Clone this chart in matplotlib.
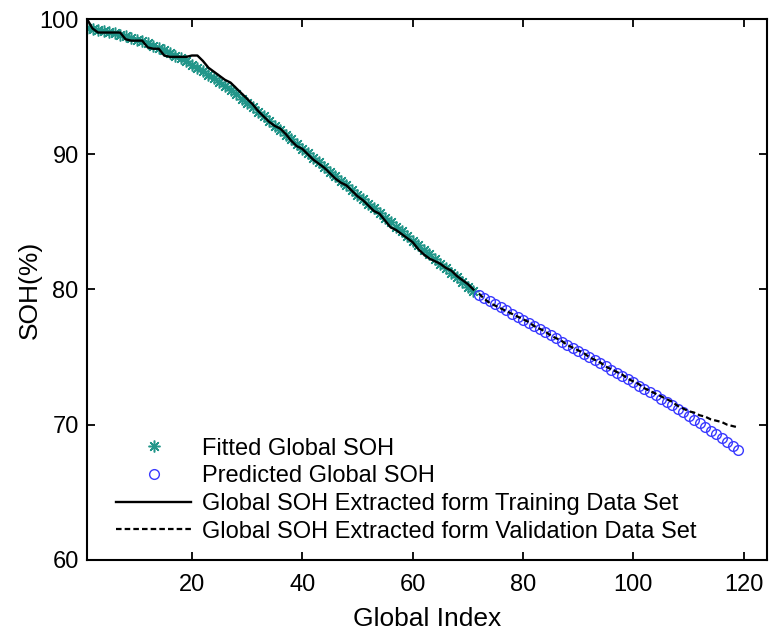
import matplotlib
matplotlib.use("Agg")
import matplotlib.pyplot as plt

plt.rcParams['font.family'] = ['Liberation Sans', 'DejaVu Sans']

# ---- data ----
fit_x = list(range(1, 72))
fit_soh = [99.30, 99.24, 99.17, 99.10, 99.02, 98.94, 98.84, 98.73, 98.61, 98.48,
           98.34, 98.19, 98.03, 97.86, 97.68, 97.49, 97.29, 97.08, 96.86, 96.63,
           96.39, 96.14, 95.88, 95.61, 95.33, 95.04, 94.74, 94.43, 94.11, 93.79,
           93.46, 93.13, 92.80, 92.46, 92.12, 91.78, 91.44, 91.10, 90.76, 90.42,
           90.08, 89.74, 89.40, 89.06, 88.72, 88.38, 88.04, 87.70, 87.36, 87.02,
           86.68, 86.34, 86.00, 85.66, 85.32, 84.98, 84.64, 84.30, 83.96, 83.62,
           83.28, 82.94, 82.60, 82.26, 81.92, 81.58, 81.24, 80.90, 80.56, 80.22,
           79.88]

train_x = list(range(1, 72))
train_soh = [100.0, 99.3, 99.0, 99.0, 99.0, 99.0, 99.0, 98.5, 98.4, 98.4,
             98.4, 97.9, 97.8, 97.8, 97.3, 97.2, 97.2, 97.2, 97.2, 97.3,
             97.3, 96.9, 96.4, 96.1, 95.8, 95.5, 95.3, 94.9, 94.5, 94.1,
             93.7, 93.2, 92.8, 92.4, 92.1, 91.9, 91.5, 91.0, 90.6, 90.4,
             90.0, 89.6, 89.3, 89.0, 88.6, 88.2, 87.9, 87.7, 87.3, 86.9,
             86.6, 86.2, 85.8, 85.6, 85.1, 84.6, 84.4, 84.1, 83.8, 83.5,
             83.0, 82.6, 82.3, 82.1, 81.9, 81.6, 81.4, 81.0, 80.7, 80.4,
             80.0]

pred_x = list(range(72, 120))
pred_soh = [79.60, 79.37, 79.14, 78.91, 78.68, 78.45, 78.22, 77.99, 77.76, 77.53,
            77.30, 77.07, 76.84, 76.61, 76.38, 76.15, 75.92, 75.69, 75.46, 75.23,
            75.00, 74.77, 74.54, 74.31, 74.08, 73.85, 73.62, 73.38, 73.14, 72.90,
            72.66, 72.42, 72.18, 71.93, 71.68, 71.43, 71.17, 70.91, 70.65, 70.38,
            70.11, 69.84, 69.56, 69.28, 69.00, 68.72, 68.44, 68.16]

val_x = list(range(72, 120))
val_soh = [79.7, 79.3, 79.0, 78.8, 78.6, 78.4, 78.2, 78.0, 77.8, 77.6,
           77.3, 77.1, 76.9, 76.6, 76.4, 76.2, 75.9, 75.7, 75.5, 75.3,
           75.0, 74.8, 74.6, 74.3, 74.1, 73.9, 73.7, 73.4, 73.2, 73.0,
           72.7, 72.5, 72.3, 72.1, 71.9, 71.7, 71.4, 71.2, 71.0, 70.9,
           70.7, 70.6, 70.4, 70.3, 70.2, 70.0, 69.9, 69.8]

x_ticks = [20, 40, 60, 80, 100, 120]
y_ticks = [60, 70, 80, 90, 100]

labels = ['Fitted Global SOH', 'Predicted Global SOH',
          'Global SOH Extracted form Training Data Set',
          'Global SOH Extracted form Validation Data Set']

# ---- figure ----
fig = plt.figure(figsize=(7.69, 6.30), dpi=100)
ax = fig.add_axes([87 / 769, (630 - 560) / 630, 680 / 769, 541 / 630])

h1, = ax.plot(fit_x, fit_soh, linestyle='none', marker=(8, 2, 0),
              markersize=8.5, markeredgewidth=1.1, color='#22968a',
              label=labels[0])
h2, = ax.plot(pred_x, pred_soh, linestyle='none', marker='o', markersize=7,
              markerfacecolor='none', markeredgecolor='#3a3aff',
              markeredgewidth=1.0, label=labels[1])
h3, = ax.plot(train_x, train_soh, color='black', linewidth=1.7, label=labels[2])
h4, = ax.plot(val_x, val_soh, color='black', linewidth=1.6,
              linestyle=(0, (2.5, 1.4)), label=labels[3])

ax.set_xlim(1, 124.2)
ax.set_ylim(60, 100)
ax.set_xticks(x_ticks)
ax.set_yticks(y_ticks)
ax.tick_params(direction='in', top=True, right=True, length=6, width=1.3,
               labelsize=17)
ax.tick_params(axis='x', pad=10)
ax.tick_params(axis='y', pad=6)
for s in ax.spines.values():
    s.set_linewidth(1.5)

ax.set_xlabel('Global Index', fontsize=19, labelpad=8)
ax.set_ylabel('SOH(%)', fontsize=19)
ax.yaxis.set_label_coords(-0.066, 0.5)

leg = ax.legend(handles=[h1, h2, h3, h4], loc='lower left',
                bbox_to_anchor=(0.0426, 0.032), frameon=False, fontsize=17,
                handlelength=3.18, handletextpad=0.47, labelspacing=0.24,
                borderpad=0, borderaxespad=0)

fig.savefig('out.png', dpi=100)
